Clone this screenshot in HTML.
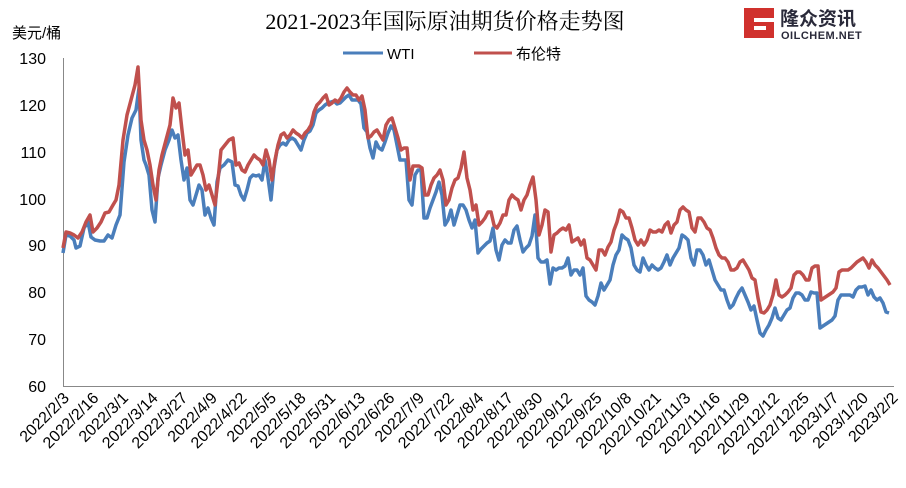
<!DOCTYPE html>
<html><head><meta charset="utf-8"><style>
body{margin:0;background:#fff;width:906px;height:483px;overflow:hidden}
text{font-family:"Liberation Sans","Noto Sans CJK SC",sans-serif}
</style></head><body>
<svg width="906" height="483" xmlns="http://www.w3.org/2000/svg">
<text x="445" y="29" text-anchor="middle" font-size="22" style="font-family:'Liberation Serif','Noto Serif CJK SC',serif">2021-2023年国际原油期货价格走势图</text>
<text x="12" y="38" font-size="15">美元/桶</text>
<g>
<path d="M744 8h30v10h-20v4h20v16h-30z" fill="#d0312d"/>
<rect x="754" y="26" width="12" height="4" fill="#fff"/>
<text x="780" y="25" font-size="19" font-weight="bold" fill="#2a2a3a">隆众资讯</text>
<text x="781" y="39" font-size="11" font-weight="bold" fill="#2a2a3a" letter-spacing="0.5">OILCHEM.NET</text>
</g>
<line x1="343" y1="53" x2="383" y2="53" stroke="#4a7ebb" stroke-width="3"/>
<text x="387" y="59" font-size="15">WTI</text>
<line x1="474" y1="53" x2="512" y2="53" stroke="#c0504d" stroke-width="3"/>
<text x="516" y="59" font-size="15">布伦特</text>
<g font-size="16" text-anchor="end">
<text x="46" y="64">130</text><text x="46" y="111">120</text><text x="46" y="158">110</text><text x="46" y="205">100</text><text x="46" y="251">90</text><text x="46" y="298">80</text><text x="46" y="345">70</text><text x="46" y="392">60</text>
</g>
<path d="M63.5 58V386.5H894" fill="none" stroke="#888" stroke-width="1"/>
<polyline fill="none" stroke="#4a7ebb" stroke-width="3.5" stroke-linejoin="round" points="63,253 66,235 70,236 74,240 76,248 80,246 84,228 88,222 91,237 95,240 100,241 104,241 108,235 112,238 116,225 120,215 124,162 128,135 132,118 136,110 139,88 141,140 144,160 146,165 149,175 152,210 155,222 158,178 161,165 165,150 169,140 172,130 175,138 178,135 181,160 184,180 187,168 190,200 193,205 196,195 199,185 202,190 205,215 208,208 211,218 214,225 217,182 220,168 224,165 228,160 232,162 235,185 238,186 241,195 244,200 247,190 250,178 253,175 256,176 259,175 262,180 265,160 268,178 271,200 274,168 277,150 280,145 283,143 286,145 289,140 292,138 295,140 298,145 301,150 304,140 307,133 310,131 313,125 316,113 319,110 322,108 325,105 328,103 331,102 334,101 337,104 340,103 343,100 346,97 349,95 352,100 355,100 358,100 361,104 364,128 367,132 370,148 373,158 376,142 379,148 382,150 385,142 388,133 391,126 394,130 397,145 400,160 403,160 406,160 409,200 412,205 415,175 418,170 421,170 424,218 427,218 430,208 433,200 436,192 439,182 442,195 445,225 448,220 451,210 454,225 457,215 460,205 463,205 466,210 469,220 472,228 475,220 478,253 481,249 484,246 487,243 490,241 493,228 496,250 499,260 502,245 505,240 508,243 511,243 514,230 517,226 520,240 523,252 526,248 529,245 532,236 535,215 538,258 541,262 544,262 547,260 550,284 553,268 556,270 559,268 562,268 565,266 568,258 571,275 574,270 577,270 580,275 583,268 586,296 589,300 592,302 595,305 598,296 601,283 604,290 607,285 610,280 613,265 616,255 619,250 622,235 625,238 628,240 631,248 634,265 637,270 640,272 643,258 646,265 649,270 652,265 655,268 658,270 661,268 664,262 667,255 670,265 673,258 676,253 679,248 682,235 685,237 688,240 691,258 694,265 697,250 700,250 703,255 706,265 709,260 712,270 715,280 718,285 721,290 724,290 727,300 730,308 733,305 736,298 739,292 742,288 745,295 748,302 751,310 754,306 757,320 760,333 763,336 766,330 769,325 772,318 775,308 778,318 781,320 784,315 787,310 790,308 793,298 796,293 799,293 802,295 805,300 808,300 811,292 814,293 817,293 820,328 823,326 826,324 829,322 832,320 835,316 838,300 841,295 844,295 847,295 850,295 853,297 856,290 859,287 862,287 865,286 868,295 871,290 874,297 877,300 880,298 883,303 886,312 889,313"/>
<polyline fill="none" stroke="#c0504d" stroke-width="3.5" stroke-linejoin="round" points="63,248 66,232 70,233 74,235 78,238 82,232 86,222 90,215 93,232 97,228 101,222 105,213 109,212 113,205 116,200 119,185 123,140 127,115 131,100 135,85 138,67 141,120 144,140 147,150 150,165 153,185 156,200 159,170 162,155 166,140 170,125 173,98 176,108 179,103 182,130 185,155 188,150 191,175 194,170 197,165 200,165 203,175 206,190 209,185 212,195 215,205 218,180 221,150 225,145 229,140 233,138 236,165 239,163 242,170 245,172 248,165 251,160 254,155 257,158 260,160 263,165 266,150 269,160 272,180 275,160 278,145 281,135 284,133 287,138 290,135 293,130 296,133 299,135 302,138 305,133 308,130 311,125 314,112 317,105 320,102 323,98 326,95 329,105 332,103 335,100 338,102 341,98 344,92 347,88 350,92 353,95 356,95 359,100 362,96 365,110 368,138 371,136 374,132 377,130 380,135 383,140 386,125 389,120 392,118 395,128 398,138 401,150 404,148 407,148 410,180 413,166 416,166 419,166 422,168 425,195 428,195 431,185 434,178 437,175 440,170 443,180 446,205 449,200 452,188 455,180 458,178 461,168 464,152 467,178 470,190 473,210 476,205 479,225 482,222 485,218 488,212 491,212 494,225 497,228 500,223 503,215 506,215 509,200 512,195 515,198 518,200 521,210 524,200 527,195 530,185 533,177 536,200 539,235 542,225 545,210 548,212 551,252 554,235 557,233 560,230 563,228 566,230 569,225 572,242 575,240 578,238 581,245 584,240 587,258 590,260 593,265 596,270 599,250 602,250 605,255 608,247 611,242 614,230 617,222 620,210 623,212 626,218 629,218 632,228 635,240 638,245 641,240 644,245 647,240 650,230 653,232 656,232 659,230 662,232 665,225 668,222 671,233 674,225 677,222 680,210 683,207 686,210 689,212 692,228 695,232 698,218 701,218 704,222 707,228 710,230 713,238 716,248 719,255 722,258 725,258 728,262 731,270 734,270 737,268 740,262 743,260 746,265 749,270 752,278 755,280 758,298 761,312 764,313 767,310 770,305 773,295 776,280 779,295 782,297 785,295 788,292 791,288 794,275 797,272 800,272 803,275 806,280 809,280 812,268 815,266 818,266 821,300 824,298 827,296 830,294 833,292 836,288 839,272 842,270 845,270 848,270 851,268 854,265 857,262 860,260 863,258 866,262 869,268 872,260 875,265 878,268 881,272 884,276 887,280 890,285"/>
<g font-size="16" text-anchor="end">
<text transform="translate(70,399) rotate(-45)">2022/2/3</text>
<text transform="translate(99.6,399) rotate(-45)">2022/2/16</text>
<text transform="translate(129.2,399) rotate(-45)">2022/3/1</text>
<text transform="translate(158.8,399) rotate(-45)">2022/3/14</text>
<text transform="translate(188.4,399) rotate(-45)">2022/3/27</text>
<text transform="translate(218,399) rotate(-45)">2022/4/9</text>
<text transform="translate(247.6,399) rotate(-45)">2022/4/22</text>
<text transform="translate(277.2,399) rotate(-45)">2022/5/5</text>
<text transform="translate(306.8,399) rotate(-45)">2022/5/18</text>
<text transform="translate(336.4,399) rotate(-45)">2022/5/31</text>
<text transform="translate(366,399) rotate(-45)">2022/6/13</text>
<text transform="translate(395.6,399) rotate(-45)">2022/6/26</text>
<text transform="translate(425.2,399) rotate(-45)">2022/7/9</text>
<text transform="translate(454.8,399) rotate(-45)">2022/7/22</text>
<text transform="translate(484.4,399) rotate(-45)">2022/8/4</text>
<text transform="translate(514,399) rotate(-45)">2022/8/17</text>
<text transform="translate(543.6,399) rotate(-45)">2022/8/30</text>
<text transform="translate(573.2,399) rotate(-45)">2022/9/12</text>
<text transform="translate(602.8,399) rotate(-45)">2022/9/25</text>
<text transform="translate(632.4,399) rotate(-45)">2022/10/8</text>
<text transform="translate(662,399) rotate(-45)">2022/10/21</text>
<text transform="translate(691.6,399) rotate(-45)">2022/11/3</text>
<text transform="translate(721.2,399) rotate(-45)">2022/11/16</text>
<text transform="translate(750.8,399) rotate(-45)">2022/11/29</text>
<text transform="translate(780.4,399) rotate(-45)">2022/12/12</text>
<text transform="translate(810,399) rotate(-45)">2022/12/25</text>
<text transform="translate(839.6,399) rotate(-45)">2023/1/7</text>
<text transform="translate(869.2,399) rotate(-45)">2023/1/20</text>
<text transform="translate(898.8,399) rotate(-45)">2023/2/2</text>
</g>
</svg>
</body></html>
